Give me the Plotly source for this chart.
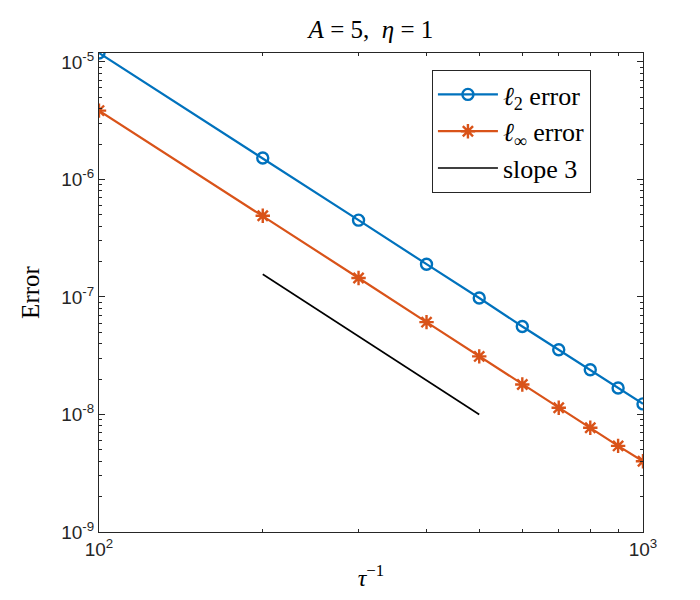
import plotly.graph_objects as go
import numpy as np

# values
tau_inv = [100, 200, 300, 400, 500, 600, 700, 800, 900, 1000]
err_l2 = [1.19e-5, 1.52e-6, 4.5e-7, 1.9e-7, 9.8e-8, 5.6e-8, 3.55e-8, 2.4e-8, 1.68e-8, 1.23e-8]
err_inf = [3.85e-6, 4.9e-7, 1.45e-7, 6.1e-8, 3.12e-8, 1.8e-8, 1.14e-8, 7.7e-9, 5.4e-9, 4.0e-9]
slope_x = [200, 500]
slope_y = [1.56e-7, 1.0e-8]

y_tickvals = [1e-9, 1e-8, 1e-7, 1e-6, 1e-5]
y_ticktext = ["10<sup>-9</sup>", "10<sup>-8</sup>", "10<sup>-7</sup>", "10<sup>-6</sup>", "10<sup>-5</sup>"]
x_tickvals = [100, 1000]
x_ticktext = ["10<sup>2</sup>", "10<sup>3</sup>"]

blue = "#0072BD"
orange = "#D95319"
axcol = "#262626"
serif = "Liberation Serif, Times New Roman, serif"
sans = "Liberation Sans, Arial, sans-serif"

fig = go.Figure()

fig.add_trace(go.Scatter(
    x=tau_inv, y=err_l2, mode="lines+markers",
    name="<i>ℓ</i><sub>2</sub> error",
    line=dict(color=blue, width=2.2),
    marker=dict(symbol="circle-open", size=11, color=blue, line=dict(width=2.4, color=blue)),
))
fig.add_trace(go.Scatter(
    x=tau_inv, y=err_inf, mode="lines+markers",
    name="<i>ℓ</i><sub>∞</sub> error",
    line=dict(color=orange, width=2.2),
    marker=dict(symbol="asterisk-open", size=12, color=orange, line=dict(width=2.4, color=orange)),
))
fig.add_trace(go.Scatter(
    x=slope_x, y=slope_y, mode="lines",
    name="slope 3",
    line=dict(color="black", width=1.6),
))

# minor tick positions for the log axes
y_minor = [k * 10.0 ** e for e in range(-9, -4) for k in range(2, 10)]
x_minor = [k * 100 for k in range(2, 10)]

axis_common = dict(
    type="log",
    showgrid=False, zeroline=False,
    showline=True, linecolor=axcol, linewidth=1, mirror="allticks",
    ticks="inside", ticklen=6, tickwidth=1, tickcolor=axcol,
    tickfont=dict(family=sans, size=19, color=axcol),
    tickmode="array",
)

fig.update_xaxes(
    **axis_common,
    range=[np.log10(tau_inv[0]), np.log10(tau_inv[-1])],
    tickvals=x_tickvals, ticktext=x_ticktext,
    minor=dict(tickmode="array", tickvals=x_minor, ticks="inside", ticklen=3, tickcolor=axcol),
    title=dict(text="<i>τ</i><sup>−1</sup>", font=dict(family=serif, size=24, color="black"), standoff=10),
)
fig.update_yaxes(
    **axis_common,
    range=[-9, np.log10(max(err_l2))],
    tickvals=y_tickvals, ticktext=y_ticktext,
    minor=dict(tickmode="array", tickvals=y_minor, ticks="inside", ticklen=3, tickcolor=axcol),
    title=dict(text="Error", font=dict(family=serif, size=25, color="black"), standoff=14),
)

fig.update_layout(
    width=700, height=600,
    margin=dict(l=91, r=65, t=45, b=76),
    paper_bgcolor="white", plot_bgcolor="white",
    title=dict(text="<i>A</i> = 5,  <i>η</i> = 1", x=0.5185, xanchor="center", y=0.965, yanchor="middle",
               font=dict(family=serif, size=25, color="black")),
    legend=dict(
        x=0.612, y=0.9645, xanchor="left", yanchor="top",
        bordercolor=axcol, borderwidth=1, bgcolor="white",
        font=dict(family=serif, size=26, color="black"),
        itemwidth=60, tracegroupgap=0,
    ),
    showlegend=True,
)

fig.write_html("out.html")
